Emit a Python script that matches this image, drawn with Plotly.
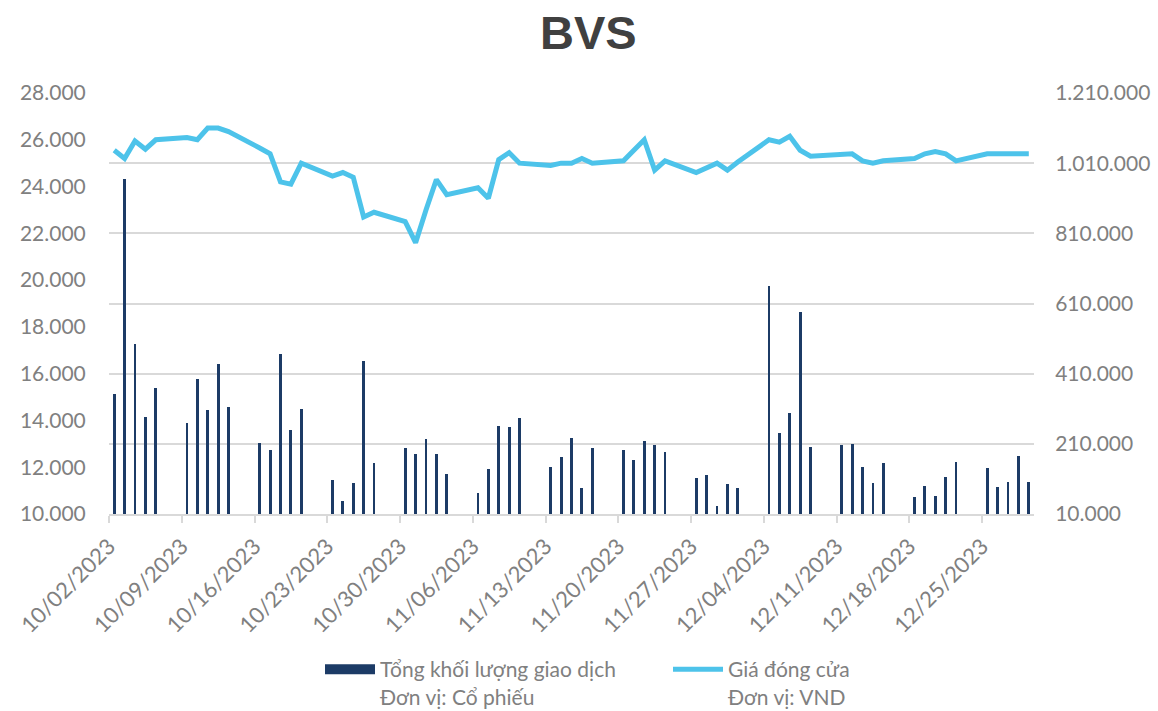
import pandas as pd
import plotly.graph_objects as go

# Trading days (Mon-Fri), 02 Oct 2023 - 29 Dec 2023
dates = pd.bdate_range("2023-10-02", "2023-12-29")

# Total traded volume (shares)
volume = [
    351000, 964000, 494000, 287000, 368000,
    269000, 396000, 306000, 437000, 314000,
    211000, 192000, 465000, 250000, 308000,
    108000, 46000, 98000, 446000, 156000,
    198000, 180000, 223000, 181000, 124000,
    71000, 139000, 260000, 257000, 284000,
    144000, 173000, 227000, 84000, 198000,
    192000, 163000, 218000, 208000, 187000,
    113000, 120000, 32000, 95000, 85000,
    661000, 241000, 299000, 587000, 201000,
    207000, 209000, 145000, 97000, 156000,
    59000, 90000, 61000, 115000, 157000,
    141000, 88000, 100000, 174000, 100000,
]

# Closing price (VND)
price = [
    25550, 25200, 25950, 25600, 26000,
    26100, 26000, 26500, 26500, 26350,
    25650, 25400, 24200, 24100, 25000,
    24450, 24600, 24400, 22700, 22900,
    22500, 21600, 23000, 24300, 23650,
    23950, 23500, 25150, 25450, 25000,
    24900, 25000, 25000, 25200, 25000,
    25100, 25550, 26000, 24700, 25100,
    24600, 24800, 25000, 24700, 25050,
    26000, 25900, 26150, 25550, 25300,
    25400, 25400, 25100, 25000, 25100,
    25200, 25400, 25500, 25400, 25100,
    25400, 25400, 25400, 25400, 25400,
]

name_vol = "Tổng khối lượng giao dịch<br>Đơn vị: Cổ phiếu"
name_price = "Giá đóng cửa<br>Đơn vị: VND"

BAR_COLOR = "#1C3B66"
LINE_COLOR = "#4DC3EA"
GRID = "#D9D9D9"
FONT_FAMILY = "Lato, Open Sans, sans-serif"
Y_TICK_FONT = dict(family=FONT_FAMILY, size=21, color="#808080")
X_TICK_FONT = dict(family=FONT_FAMILY, size=22, color="#808080")
DAY_MS = 86400000

fig = go.Figure()

fig.add_trace(go.Bar(
    x=dates, y=volume, yaxis="y", name=name_vol,
    marker=dict(color=BAR_COLOR, line=dict(width=0)),
    width=0.27 * DAY_MS,
    xperiod=DAY_MS, xperiodalignment="middle",
    showlegend=False,
))

# legend proxy for the volume bars (wide swatch like the original)
fig.add_trace(go.Scatter(
    x=[None], y=[None], yaxis="y", mode="lines", name=name_vol,
    line=dict(color=BAR_COLOR, width=12),
))

fig.add_trace(go.Scatter(
    x=dates, y=price, yaxis="y2", mode="lines", name=name_price,
    line=dict(color=LINE_COLOR, width=5),
    xperiod=DAY_MS, xperiodalignment="middle",
))

fig.update_layout(
    width=1158, height=711,
    paper_bgcolor="white", plot_bgcolor="white",
    margin=dict(l=109, r=124, t=93, b=197),
    separators=",.",
    title=dict(
        text="<b>BVS</b>", xref="container", x=0.508, xanchor="center",
        yref="container", y=0.954, yanchor="middle",
        font=dict(family="Liberation Sans, Arial, sans-serif", size=47, color="#404040"),
    ),
    xaxis=dict(
        type="date", automargin=False,
        range=["2023-10-02", "2023-12-30"],
        tick0="2023-10-02", dtick=7 * DAY_MS,
        tickformat="%m/%d/%Y", tickangle=-45,
        tickfont=X_TICK_FONT, ticklabelstandoff=2,
        showgrid=False, zeroline=False,
        showline=True, linecolor=GRID, linewidth=1.5,
        ticks="outside", ticklen=7, tickcolor=GRID, tickwidth=1.5,
    ),
    yaxis=dict(
        side="right", automargin=False,
        range=[10000, 1210000], tick0=10000, dtick=200000,
        tickformat=",d", tickfont=Y_TICK_FONT,
        showgrid=True, gridcolor=GRID, gridwidth=1.5,
        zeroline=False, showline=False,
        ticks="outside", ticklen=16, tickcolor="rgba(0,0,0,0)",
    ),
    yaxis2=dict(
        side="left", overlaying="y", automargin=False,
        range=[10000, 28000], tick0=10000, dtick=2000,
        tickformat=",d", tickfont=Y_TICK_FONT,
        showgrid=False, zeroline=False, showline=False,
        ticks="outside", ticklen=18, tickcolor="rgba(0,0,0,0)",
    ),
    legend=dict(
        orientation="h", xref="container", x=320 / 1158, xanchor="left",
        yref="container", y=1 - 649 / 711, yanchor="top", valign="top",
        font=dict(family=FONT_FAMILY, size=21, color="#808080"),
        itemwidth=50, entrywidth=283, entrywidthmode="pixels",
        bgcolor="rgba(0,0,0,0)",
    ),
    bargap=0,
)

fig.write_html(
    "out.html",
    config={"displayModeBar": False},
    post_script="document.body.style.margin='0';",
)
